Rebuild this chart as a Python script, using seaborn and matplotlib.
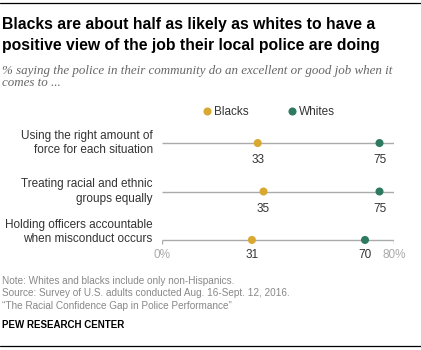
import pandas as pd
import matplotlib.pyplot as plt
import seaborn as sns
from matplotlib.lines import Line2D

# data
items = [
    "Using the right amount of\nforce for each situation",
    "Treating racial and ethnic\ngroups equally",
    "Holding officers accountable\nwhen misconduct occurs",
]
blacks = [33, 35, 31]
whites = [75, 75, 70]
groups = ["Blacks", "Whites"]
colors = {"Blacks": "#D8A831", "Whites": "#2D7A60"}

df = pd.DataFrame({
    "item": items * 2,
    "group": ["Blacks"] * 3 + ["Whites"] * 3,
    "value": blacks + whites,
})

sns.set_theme(style="white")
plt.rcParams["font.family"] = ["Liberation Sans", "DejaVu Sans"]

W, H = 421, 350
fig = plt.figure(figsize=(W / 100, H / 100), dpi=100)

# axes placed so rows land where the reference has them
ax_left, ax_right = 162 / W, 394 / W
top_px, bot_px = 128.5, 254.5
ax = fig.add_axes([ax_left, 1 - bot_px / H, ax_right - ax_left, (bot_px - top_px) / H])

for i in range(len(items)):
    ax.hlines(i, 0, 80, color="#AAAAAA", lw=1, zorder=1)
ax.vlines([0, 80], 2, 2.08, color="#AAAAAA", lw=1, zorder=1)

sns.stripplot(data=df, x="value", y="item", hue="group", order=items,
              hue_order=groups, palette=colors, jitter=False, size=5.8,
              linewidth=0, legend=False, ax=ax, zorder=3)

ax.set_xlim(0, 80)
ax.set_ylim(2.3, -0.3)
ax.axis("off")

# value labels
for i, (b, w) in enumerate(zip(blacks, whites)):
    dy = 0.36 if i < 2 else 0.31
    ax.text(b, i + dy, str(b), ha="center", va="center", fontsize=8.5, color="#333333")
    ax.text(w, i + dy, str(w), ha="center", va="center", fontsize=8.5, color="#333333")
ax.text(0, 2.31, "0%", ha="center", va="center", fontsize=8.5, color="#AAAAAA")
ax.text(80, 2.31, "80%", ha="center", va="center", fontsize=8.5, color="#AAAAAA")

# category labels
for i, lab in enumerate(items):
    dy = 0 if i < 2 else -0.16
    ax.text(-3.2, i + dy, lab, ha="right", va="center", fontsize=8.5,
            color="#333333", linespacing=1.25)

# legend
handles = [Line2D([], [], marker="o", ls="", color=colors[g], markersize=4.8) for g in groups]
fig.legend(handles, groups, loc="center", bbox_to_anchor=(268 / W, 1 - 112 / H),
           ncol=2, frameon=False, fontsize=8.5, handletextpad=0.1,
           columnspacing=3.2, handlelength=1.0, labelcolor="#333333")

# title and subtitle
fig.text(2 / W, 1 - 29 / H, "Blacks are about half as likely as whites to have a",
         fontsize=11.3, fontweight="bold", color="black", va="baseline")
fig.text(2 / W, 1 - 50 / H, "positive view of the job their local police are doing",
         fontsize=11.3, fontweight="bold", color="black", va="baseline")
fig.text(2 / W, 1 - 74 / H,
         "% saying the police in their community do an excellent or good job when it",
         fontsize=9.4, style="italic", family="Liberation Serif", color="#666666", va="baseline")
fig.text(2 / W, 1 - 86 / H, "comes to ...",
         fontsize=9.4, style="italic", family="Liberation Serif", color="#666666", va="baseline")

# notes
notes = [
    "Note: Whites and blacks include only non-Hispanics.",
    "Source: Survey of U.S. adults conducted Aug. 16-Sept. 12, 2016.",
    "\u201cThe Racial Confidence Gap in Police Performance\u201d",
]
for k, line in enumerate(notes):
    fig.text(2 / W, 1 - (284 + 12.5 * k) / H, line, fontsize=7.2, color="#888888", va="baseline")
fig.text(2 / W, 1 - 328 / H, "PEW RESEARCH CENTER", fontsize=7, fontweight="bold",
         color="black", va="baseline")

# top and bottom rules
fig.add_artist(Line2D([0, 1], [1 - 3 / H, 1 - 3 / H], color="black", lw=0.9))
fig.add_artist(Line2D([0, 1], [1 - 346 / H, 1 - 346 / H], color="black", lw=0.9))

fig.savefig("out.png", dpi=100, facecolor="white")
